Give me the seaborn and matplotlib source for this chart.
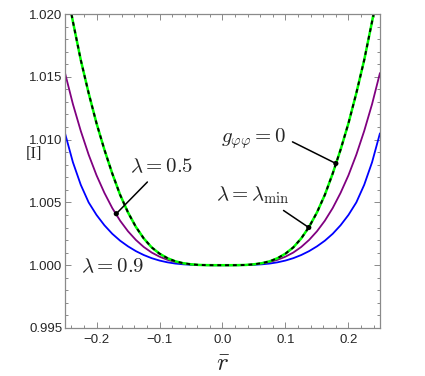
import numpy as np
import pandas as pd
import matplotlib
matplotlib.use("Agg")
import matplotlib.pyplot as plt
from matplotlib.ticker import MultipleLocator
import seaborn as sns

# radial coordinate grid (step 0.0125)
r_bar = [-0.25, -0.2375, -0.225, -0.2125, -0.2, -0.1875, -0.175, -0.1625, -0.15, -0.1375,
         -0.125, -0.1125, -0.1, -0.0875, -0.075, -0.0625, -0.05, -0.0375, -0.025, -0.0125,
         0.0,
         0.0125, 0.025, 0.0375, 0.05, 0.0625, 0.075, 0.0875, 0.1, 0.1125, 0.125,
         0.1375, 0.15, 0.1625, 0.175, 0.1875, 0.2, 0.2125, 0.225, 0.2375, 0.25]

# lambda = 0.9 (blue)
I_lam09 = [1.01050, 1.00820, 1.00640, 1.00500, 1.00400, 1.00318, 1.00250, 1.00195, 1.00150, 1.00112,
           1.00081, 1.00056, 1.00037, 1.00023, 1.00013, 1.00007, 1.00003, 1.00001, 1.00000, 1.00000,
           1.00000,
           1.00000, 1.00000, 1.00001, 1.00003, 1.00007, 1.00013, 1.00023, 1.00037, 1.00056, 1.00081,
           1.00112, 1.00150, 1.00195, 1.00250, 1.00318, 1.00400, 1.00500, 1.00640, 1.00820, 1.01050]

# lambda = 0.5 (purple)
I_lam05 = [1.01530, 1.01283, 1.01069, 1.00880, 1.00716, 1.00576, 1.00455, 1.00354, 1.00270, 1.00201,
           1.00145, 1.00101, 1.00068, 1.00043, 1.000255, 1.00014, 1.000064, 1.000024, 1.000006, 1.00000,
           1.00000,
           1.00000, 1.000006, 1.000024, 1.000064, 1.00014, 1.000255, 1.00043, 1.00068, 1.00101, 1.00145,
           1.00201, 1.00270, 1.00354, 1.00455, 1.00576, 1.00716, 1.00880, 1.01069, 1.01283, 1.01530]

# lambda = lambda_min (green, black dashed on top)
I_lammin = [1.0227, 1.0194, 1.01634, 1.0137, 1.0113, 1.0092, 1.0073, 1.0056, 1.0042, 1.00305,
            1.00213, 1.00142, 1.00092, 1.00056, 1.00031, 1.00016, 1.00007, 1.00002, 1.000005, 1.00000,
            1.00000,
            1.00000, 1.000005, 1.00002, 1.00007, 1.00016, 1.00031, 1.00056, 1.00092, 1.00142, 1.00213,
            1.00305, 1.0042, 1.0056, 1.0073, 1.0092, 1.0113, 1.0137, 1.01634, 1.0194, 1.0227]

# annotated points on the curves
mark_x = [-0.1686, 0.137, 0.18]
mark_y = [1.0041, 1.0030, 1.0081]

x_ticks = [-0.2, -0.1, 0.0, 0.1, 0.2]
x_tick_labels = ["\u22120.2", "\u22120.1", "0.0", "0.1", "0.2"]
y_ticks = [0.995, 1.000, 1.005, 1.010, 1.015, 1.020]
y_tick_labels = ["0.995", "1.000", "1.005", "1.010", "1.015", "1.020"]

df = pd.DataFrame({"r": r_bar, "lam09": I_lam09, "lam05": I_lam05, "lammin": I_lammin})

sns.set_style("ticks")
plt.rcParams["font.family"] = ["Liberation Sans", "DejaVu Sans"]
plt.rcParams["mathtext.fontset"] = "cm"

fig = plt.figure(figsize=(4.25, 3.76), dpi=100)
ax = fig.add_axes([0.153, 0.1277, 0.741, 0.835])

sns.lineplot(data=df, x="r", y="lam09", color=(0, 0, 1), lw=1.3, ax=ax)
sns.lineplot(data=df, x="r", y="lam05", color=(0.5, 0, 0.5), lw=1.3, ax=ax)
sns.lineplot(data=df, x="r", y="lammin", color=(0, 1, 0), lw=1.8, ax=ax)
sns.lineplot(data=df, x="r", y="lammin", color="black", lw=1.4, linestyle=(0, (2, 2)), ax=ax)
sns.scatterplot(x=mark_x, y=mark_y, color="black", s=14, edgecolor="none", zorder=5, ax=ax)

ax.set_xlim(-0.25, 0.25)
ax.set_ylim(0.995, 1.020)
ax.set_xticks(x_ticks)
ax.set_xticklabels(x_tick_labels)
ax.set_yticks(y_ticks)
ax.set_yticklabels(y_tick_labels)
ax.xaxis.set_minor_locator(MultipleLocator(0.02))
ax.yaxis.set_minor_locator(MultipleLocator(0.001))

gray = "#8a8a8a"
for s in ax.spines.values():
    s.set_color(gray)
    s.set_linewidth(0.9)
ax.tick_params(which="both", direction="in", top=True, right=True, color=gray, width=0.7)
ax.tick_params(which="major", length=4.5)
ax.tick_params(which="minor", length=2.5)
ax.tick_params(axis="y", labelsize=9.5, pad=2)
ax.tick_params(axis="x", labelsize=9.5, pad=4)

ax.set_xlabel(r"$\bar{r}$", fontsize=18, va="center")
ax.xaxis.set_label_coords(0.5, -0.112)
ax.set_ylabel("[I]", fontsize=12, rotation=0, family="Liberation Serif", va="center", ha="center")
ax.yaxis.set_label_coords(-0.10, 0.554)

lab = dict(fontsize=15, ha="center", va="center")
line = dict(arrowstyle="-", color="black", lw=1.1, shrinkA=2, shrinkB=0)
ax.annotate(r"$\lambda = 0.5$", xy=(mark_x[0], mark_y[0]), xytext=(-0.096, 1.0078),
            arrowprops=dict(line, relpos=(0.35, 0.0)), **lab)
ax.annotate(r"$\lambda = \lambda_{\min}$", xy=(mark_x[1], mark_y[1]), xytext=(0.048, 1.0056),
            arrowprops=dict(line, relpos=(0.82, 0.0)), **lab)
ax.annotate(r"$g_{\varphi\varphi} = 0$", xy=(mark_x[2], mark_y[2]), xytext=(0.050, 1.01005),
            arrowprops=dict(line, relpos=(1.0, 0.5)), **lab)
ax.text(-0.174, 0.9999, r"$\lambda = 0.9$", **lab)

fig.savefig("out.png", dpi=100)
